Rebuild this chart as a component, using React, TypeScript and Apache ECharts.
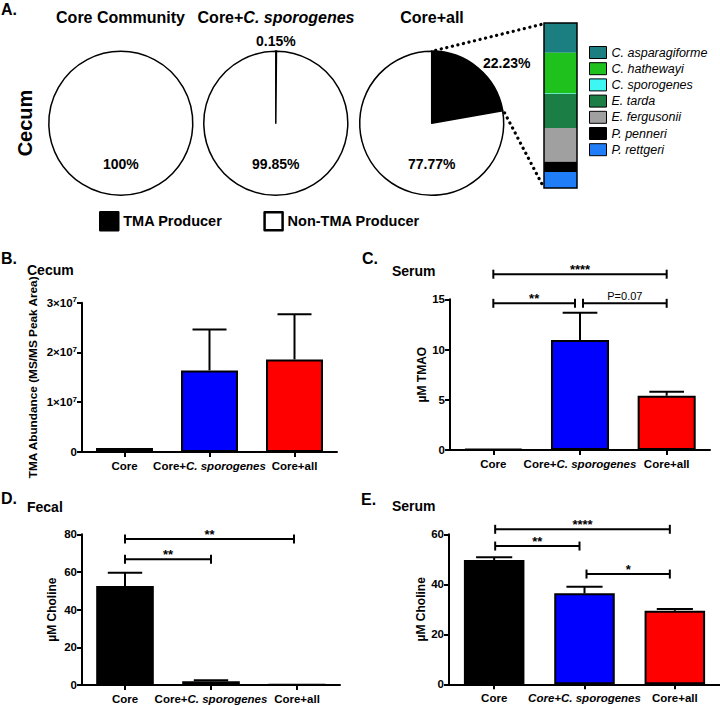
import React, { useEffect, useRef } from 'react';
import * as echarts from 'echarts';

const FONT = '"Liberation Sans", Arial, Helvetica, sans-serif';

// ---------- Panel A data ----------
const pieTitles = ['Core Community', 'Core+C. sporogenes', 'Core+all'];
const pieGroups = ['TMA Producer', 'Non-TMA Producer'];
const tmaProducerPct = [0, 0.15, 22.23];
const nonTmaProducerPct = [100, 99.85, 77.77];

const species = ['C. asparagiforme', 'C. hathewayi', 'C. sporogenes', 'E. tarda', 'E. fergusonii', 'P. penneri', 'P. rettgeri'];
const speciesPct = [4.02, 5.49, 0.07, 4.55, 4.55, 1.41, 2.14];
const speciesColors = ['#1b7e80', '#1fc21c', '#3ef6f2', '#1b7f45', '#a0a0a0', '#000000', '#1f7ef7'];

// ---------- Panels B-E data ----------
const groups = ['Core', 'Core+C. sporogenes', 'Core+all'];
const barColors = ['#000000', '#0000ff', '#ff0000'];

const cecumTmaMean = [0.08e7, 1.64e7, 1.86e7];
const cecumTmaSem = [0, 0.82e7, 0.91e7];

const serumTmaoMean = [0.12, 10.95, 5.4];
const serumTmaoSem = [0, 2.71, 0.4];

const fecalCholineMean = [52.6, 2.0, 0.25];
const fecalCholineSem = [7.0, 0.5, 0];

const serumCholineMean = [49.7, 36.4, 29.4];
const serumCholineSem = [1.1, 2.6, 0.7];

// significance brackets: [fromGroup, toGroup, yValue, label]
const serumTmaoSig = [
  { from: 0, to: 2, y: 17.5, label: '****' },
  { from: 0, to: 1, y: 14.6, label: '**', inR: 5 },
  { from: 1, to: 2, y: 14.6, label: 'P=0.07', inL: 3 },
];
const fecalCholineSig = [
  { from: 0, to: 2, y: 77.5, label: '**', inR: 3 },
  { from: 0, to: 1, y: 66.7, label: '**' },
];
const serumCholineSig = [
  { from: 0, to: 2, y: 62.0, label: '****', inL: 1, inR: 5 },
  { from: 0, to: 1, y: 55.3, label: '**', inL: 1, inR: 5 },
  { from: 1, to: 2, y: 44.1, label: '*', inL: 2, inR: 5 },
];

// ---------- layout ----------
const PIE_CX = [120.8, 275.8, 431.7];
const PIE_CY = 123.3;
const PIE_R = 72;
const SB = { left: 544, top: 23, width: 33, height: 165 };

const black = '#000';

function bracketSeries(gi: number, list: any[]) {
  return {
    type: 'custom',
    xAxisIndex: gi,
    yAxisIndex: gi,
    clip: false,
    silent: true,
    z: 6,
    data: list.map((b) => [b.from, b.to, b.y]),
    renderItem: (params: any, api: any) => {
      const b = list[params.dataIndex];
      const p1 = api.coord([api.value(0), api.value(2)]);
      const p2 = api.coord([api.value(1), api.value(2)]);
      const x1 = p1[0] + (b.inL || 0);
      const x2 = p2[0] - (b.inR || 0);
      const y = p1[1];
      const ls = { stroke: black, lineWidth: 2 };
      const isStar = b.label.indexOf('*') >= 0;
      return {
        type: 'group',
        children: [
          { type: 'line', shape: { x1, y1: y, x2, y2: y }, style: ls },
          { type: 'line', shape: { x1, y1: y - 4.5, x2: x1, y2: y + 4.5 }, style: ls },
          { type: 'line', shape: { x1: x2, y1: y - 4.5, x2, y2: y + 4.5 }, style: ls },
          {
            type: 'text',
            x: (x1 + x2) / 2,
            y: isStar ? y + 2 : y - 2,
            style: {
              text: b.label,
              fill: black,
              fontFamily: FONT,
              fontWeight: isStar ? 'bold' : 'normal',
              fontSize: isStar ? 13 : 11,
              align: 'center',
              textAlign: 'center',
              verticalAlign: 'bottom',
              textVerticalAlign: 'bottom',
            },
          },
        ],
      };
    },
  };
}

function errorSeries(gi: number, mean: number[], sem: number[]) {
  return {
    type: 'custom',
    xAxisIndex: gi,
    yAxisIndex: gi,
    clip: false,
    silent: true,
    z: 5,
    data: mean.map((m, i) => [i, m, sem[i]]),
    renderItem: (params: any, api: any) => {
      const i = api.value(0);
      const m = api.value(1);
      const e = api.value(2);
      if (!e) return { type: 'group', children: [] };
      const base = api.coord([i, m]);
      const top = api.coord([i, m + e]);
      const hw = api.size([1, 0])[0] * 0.2;
      const ls = { stroke: black, lineWidth: 2 };
      return {
        type: 'group',
        children: [
          { type: 'line', shape: { x1: base[0], y1: base[1], x2: top[0], y2: top[1] }, style: ls },
          { type: 'line', shape: { x1: top[0] - hw, y1: top[1], x2: top[0] + hw, y2: top[1] }, style: ls },
        ],
      };
    },
  };
}

function barSeries(gi: number, mean: number[]) {
  return {
    type: 'bar',
    xAxisIndex: gi,
    yAxisIndex: gi,
    silent: true,
    barWidth: '67%',
    z: 3,
    data: mean.map((v, i) => ({ value: v, itemStyle: { color: barColors[i] } })),
    itemStyle: { borderColor: black, borderWidth: 2 },
  };
}

const tickFont = { color: black, fontFamily: FONT, fontWeight: 'bold', fontSize: 11.5 };

function xAxisFor(gi: number, allItalic: boolean) {
  return {
    type: 'category',
    gridIndex: gi,
    data: groups,
    axisLine: { show: true, lineStyle: { color: black, width: 2 } },
    axisTick: { show: true, alignWithLabel: true, length: 5, lineStyle: { color: black, width: 2 } },
    axisLabel: {
      ...tickFont,
      interval: 0,
      margin: 8,
      formatter: (v: string) => {
        if (v.indexOf('C. sporogenes') >= 0) {
          return allItalic ? `{i|${v}}` : `{n|Core+}{i|C. sporogenes}`;
        }
        return v;
      },
      rich: {
        n: { ...tickFont },
        i: { ...tickFont, fontStyle: 'italic' },
      },
    },
    splitLine: { show: false },
  };
}

function yAxisFor(gi: number, max: number, interval: number, name: string, nameGap: number, nameSize: number, formatter?: any) {
  return {
    type: 'value',
    gridIndex: gi,
    min: 0,
    max,
    interval,
    name,
    nameLocation: 'middle',
    nameRotate: 90,
    nameGap,
    nameTextStyle: { color: black, fontFamily: FONT, fontWeight: 'bold', fontSize: nameSize },
    axisLine: { show: true, lineStyle: { color: black, width: 2 } },
    axisTick: { show: true, length: 5, lineStyle: { color: black, width: 2 } },
    axisLabel: {
      ...tickFont,
      margin: 5,
      formatter: formatter,
      rich: {
        m: { ...tickFont },
        s: { ...tickFont, fontSize: 8, verticalAlign: 'top', padding: [0, 0, 6, 0] },
      },
    },
    splitLine: { show: false },
  };
}

function txt(text: string, x: number, y: number, size: number, extra: any = {}) {
  return {
    type: 'text',
    x,
    y,
    z: 10,
    silent: true,
    rotation: extra.rotation || 0,
    style: {
      text,
      fill: black,
      fontFamily: FONT,
      fontWeight: extra.weight || 'bold',
      fontStyle: extra.style || 'normal',
      fontSize: size,
      align: extra.align || 'center',
      textAlign: extra.align || 'center',
      verticalAlign: 'middle',
      textVerticalAlign: 'middle',
      rich: extra.rich,
    },
  };
}

function buildOption() {
  const total = speciesPct.reduce((a, b) => a + b, 0);
  const fmtPct = (v: number) => `${v}%`;

  const pies = pieTitles.map((_, k) => ({
    type: 'pie',
    center: [PIE_CX[k], PIE_CY],
    radius: PIE_R,
    startAngle: 90,
    clockwise: true,
    silent: true,
    animation: false,
    label: { show: false },
    labelLine: { show: false },
    itemStyle: { borderColor: black, borderWidth: 1.5 },
    data: [
      { name: pieGroups[0], value: tmaProducerPct[k], itemStyle: { color: black, borderWidth: 2 } },
      { name: pieGroups[1], value: nonTmaProducerPct[k], itemStyle: { color: '#ffffff' } },
    ].filter((d) => d.value > 0),
  }));

  const speciesBars = species.map((s, k) => ({
    type: 'bar',
    name: s,
    stack: 'tma',
    xAxisIndex: 0,
    yAxisIndex: 0,
    barWidth: '100%',
    silent: true,
    data: [speciesPct[k]],
    itemStyle: { color: speciesColors[k] },
  }));

  // pie geometry for the zoom connector
  const wedgeAngle = (tmaProducerPct[2] / 100) * 2 * Math.PI;
  const wx = PIE_CX[2] + PIE_R * Math.sin(wedgeAngle);
  const wy = PIE_CY - PIE_R * Math.cos(wedgeAngle);
  const dotStyle = { stroke: black, lineWidth: 3.2, lineDash: [0.1, 5.6], lineCap: 'round' };

  const titleRich = { i: { fontFamily: FONT, fontWeight: 'bold', fontStyle: 'italic', fontSize: 16, fill: black } };

  const graphic: any[] = [
    txt('A.', 1, 9, 16, { align: 'left' }),
    txt(pieTitles[0], 120.5, 17.5, 16),
    txt('Core+{i|C. sporogenes}', 276, 17.5, 16, { rich: titleRich }),
    txt(pieTitles[2], 432, 17, 16),
    txt('Cecum', 25, 123, 20, { rotation: Math.PI / 2 }),
    // pie percent labels
    txt(fmtPct(nonTmaProducerPct[0]), PIE_CX[0], PIE_CY + 41, 14),
    txt(fmtPct(nonTmaProducerPct[1]), PIE_CX[1], PIE_CY + 41, 14),
    txt(fmtPct(tmaProducerPct[1]), PIE_CX[1], PIE_CY - 82, 14),
    txt(fmtPct(nonTmaProducerPct[2]), PIE_CX[2], PIE_CY + 41, 14),
    txt(fmtPct(tmaProducerPct[2]), PIE_CX[2] + 75, PIE_CY - 60, 14),
    // connectors
    { type: 'line', silent: true, z: 10, shape: { x1: PIE_CX[2] + 4, y1: PIE_CY - PIE_R - 1, x2: SB.left - 1, y2: SB.top + 1 }, style: dotStyle },
    { type: 'line', silent: true, z: 10, shape: { x1: wx + 2, y1: wy + 2, x2: SB.left - 1, y2: SB.top + SB.height - 2 }, style: dotStyle },
    // stacked bar outline
    { type: 'rect', silent: true, z: 10, shape: { x: SB.left, y: SB.top, width: SB.width, height: SB.height }, style: { fill: 'none', stroke: black, lineWidth: 1.5 } },
    // panel letters & subtitles
    txt('B.', 1, 258.5, 16, { align: 'left' }),
    txt('Cecum', 27, 270, 14, { align: 'left' }),
    txt('C.', 362, 258.5, 16, { align: 'left' }),
    txt('Serum', 392, 271, 14, { align: 'left' }),
    txt('D.', 1, 498.5, 16, { align: 'left' }),
    txt('Fecal', 27, 507, 14, { align: 'left' }),
    txt('E.', 361, 499, 16, { align: 'left' }),
    txt('Serum', 392, 506, 14, { align: 'left' }),
  ];

  const bFormatter = (v: number) => (v === 0 ? '0' : `{m|${Math.round(v / 1e7)}×10}{s|7}`);

  return {
    animation: false,
    backgroundColor: '#ffffff',
    textStyle: { fontFamily: FONT },
    grid: [
      { ...SB, outerBoundsMode: 'none', containLabel: false },
      { left: 82, top: 302.7, width: 255, height: 149.3, outerBoundsMode: 'none', containLabel: false },
      { left: 450, top: 299.3, width: 260, height: 150.7, outerBoundsMode: 'none', containLabel: false },
      { left: 82, top: 534.3, width: 258, height: 150.7, outerBoundsMode: 'none', containLabel: false },
      { left: 449, top: 534.3, width: 271, height: 150, outerBoundsMode: 'none', containLabel: false },
    ],
    legend: [
      {
        data: species,
        orient: 'vertical',
        left: 584,
        top: 41,
        itemWidth: 17,
        itemHeight: 12,
        itemGap: 3.2,
        icon: 'rect',
        selectedMode: false,
        itemStyle: { borderColor: black, borderWidth: 1 },
        textStyle: { color: black, fontFamily: FONT, fontStyle: 'italic', fontSize: 12.5, lineHeight: 12 },
      },
      {
        data: pieGroups,
        orient: 'horizontal',
        left: 94,
        top: 206,
        itemWidth: 18,
        itemHeight: 18,
        itemGap: 41,
        icon: 'rect',
        selectedMode: false,
        itemStyle: { borderColor: black, borderWidth: 2.5 },
        textStyle: { color: black, fontFamily: FONT, fontWeight: 'bold', fontSize: 14.5 },
      },
    ],
    xAxis: [
      { type: 'category', gridIndex: 0, data: ['TMA producers'], show: false },
      xAxisFor(1, false),
      xAxisFor(2, false),
      xAxisFor(3, false),
      xAxisFor(4, true),
    ],
    yAxis: [
      { type: 'value', gridIndex: 0, min: 0, max: total, inverse: true, show: false },
      yAxisFor(1, 3e7, 1e7, 'TMA Abundance (MS/MS Peak Area)', 43, 11.8, bFormatter),
      yAxisFor(2, 15, 5, 'µM TMAO', 22, 12),
      yAxisFor(3, 80, 20, 'µM Choline', 24, 12),
      yAxisFor(4, 60, 20, 'µM Choline', 22, 12),
    ],
    series: [
      ...pies,
      ...speciesBars,
      barSeries(1, cecumTmaMean),
      errorSeries(1, cecumTmaMean, cecumTmaSem),
      barSeries(2, serumTmaoMean),
      errorSeries(2, serumTmaoMean, serumTmaoSem),
      bracketSeries(2, serumTmaoSig),
      barSeries(3, fecalCholineMean),
      errorSeries(3, fecalCholineMean, fecalCholineSem),
      bracketSeries(3, fecalCholineSig),
      barSeries(4, serumCholineMean),
      errorSeries(4, serumCholineMean, serumCholineSem),
      bracketSeries(4, serumCholineSig),
    ],
    graphic,
  };
}

export default function App() {
  const ref = useRef<HTMLDivElement>(null);
  useEffect(() => {
    const chart = echarts.init(ref.current as HTMLDivElement, null, { renderer: 'svg' });
    chart.setOption(buildOption() as any);
    return () => chart.dispose();
  }, []);
  return (
    <div
      ref={ref}
      style={{ position: 'fixed', left: 0, top: 0, width: 720, height: 705, background: '#fff' }}
    />
  );
}
